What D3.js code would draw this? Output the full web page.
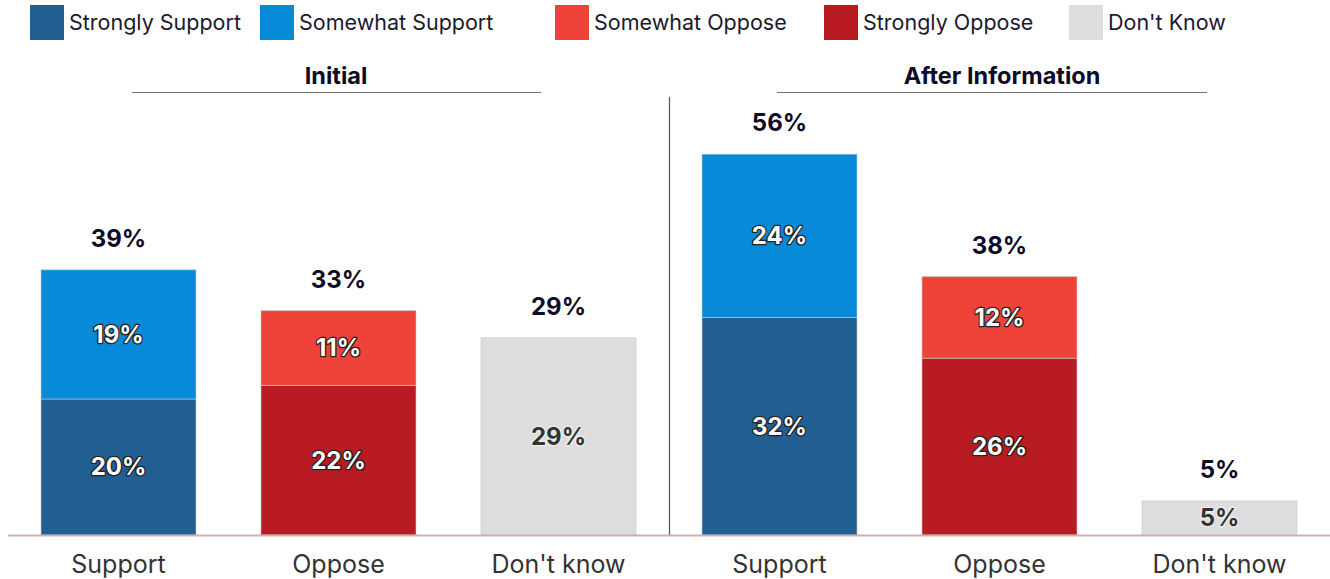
<!DOCTYPE html>
<html>
<head>
<meta charset="utf-8">
<script src="https://cdn.jsdelivr.net/npm/d3@7"></script>
<style>
  body { margin: 0; background: #fff; }
  svg { display: block; font-family: Inter, "Open Sans", sans-serif; }
  .inlbl { paint-order: stroke; stroke-linejoin: round; }
</style>
</head>
<body>
<svg id="chart"></svg>
<script>
// chart size
var width = 1330;
var height = 579;

// data
var panels = ['Initial', 'After Information'];
var categories = ['Support', 'Oppose', "Don't know"];
var seriesNames = ['Strongly Support', 'Somewhat Support', 'Somewhat Oppose', 'Strongly Oppose', "Don't Know"];
var seriesColors = ['#215f93', '#078bd9', '#ef4238', '#b81c22', '#dddddd'];

// segments per panel, bottom to top: [category, series index, value]
var initialSegments = [
  ['Support', 0, 20], ['Support', 1, 19],
  ['Oppose', 3, 22], ['Oppose', 2, 11],
  ["Don't know", 4, 29]
];
var afterSegments = [
  ['Support', 0, 32], ['Support', 1, 24],
  ['Oppose', 3, 26], ['Oppose', 2, 12],
  ["Don't know", 4, 5]
];
var initialTotals = [39, 33, 29];
var afterTotals = [56, 38, 5];

var baseY = 535;

var svg = d3.select('#chart')
  .attr('width', width)
  .attr('height', height);

// y scale, 6.8px per percent
var scaleY = d3.scaleLinear()
  .domain([0, 60])
  .range([baseY, baseY - 408]);

// outer band scale for panels, inner band for bars
var panelScale = d3.scaleBand()
  .domain(panels)
  .range([8.5, 1330.5]);

var barScale = d3.scaleBand()
  .domain(categories)
  .range([0, 660])
  .paddingInner(0.2955)
  .paddingOuter(0.1477);

// legend
var legendX = [30, 260, 555, 824, 1069];
var legend = svg.append('g').attr('class', 'legend');
seriesNames.forEach(function(name, i) {
  var g = legend.append('g').attr('transform', 'translate(' + legendX[i] + ',5)');
  g.append('rect')
    .attr('width', 34)
    .attr('height', 35)
    .attr('fill', seriesColors[i]);
  g.append('text')
    .attr('x', 39)
    .attr('y', 25)
    .style('font-size', '21.5px')
    .attr('fill', '#1a1a2e')
    .text(name);
});

var panelData = [
  { name: 'Initial', segments: initialSegments, totals: initialTotals, line: [132, 541], cx: 336 },
  { name: 'After Information', segments: afterSegments, totals: afterTotals, line: [777, 1207], cx: 1002 }
];

panelData.forEach(function(p) {
  var x0 = panelScale(p.name);
  var g = svg.append('g').attr('transform', 'translate(' + x0 + ',0)');

  // panel title + underline
  svg.append('text')
    .attr('x', p.cx)
    .attr('y', 84)
    .style('text-anchor', 'middle')
    .style('font-size', '23.5px')
    .style('font-weight', 700)
    .attr('fill', '#0d0b26')
    .text(p.name);
  svg.append('line')
    .attr('x1', p.line[0]).attr('x2', p.line[1])
    .attr('y1', 92.5).attr('y2', 92.5)
    .attr('stroke', '#777')
    .attr('stroke-width', 1.2);

  // stack the segments
  var running = {};
  var segs = p.segments.map(function(s) {
    var start = running[s[0]] || 0;
    running[s[0]] = start + s[2];
    return { cat: s[0], series: s[1], y0: start, y1: start + s[2], value: s[2] };
  });

  g.selectAll('rect.bar')
    .data(segs)
    .enter()
    .append('rect')
      .attr('class', 'bar')
      .attr('x', d => barScale(d.cat))
      .attr('width', barScale.bandwidth())
      .attr('y', d => scaleY(d.y1))
      .attr('height', d => scaleY(d.y0) - scaleY(d.y1))
      .attr('fill', d => seriesColors[d.series])
      .attr('stroke', 'rgba(200,200,200,0.6)')
      .attr('stroke-width', 1);

  // labels inside segments
  g.selectAll('text.inlbl')
    .data(segs)
    .enter()
    .append('text')
      .attr('class', 'inlbl')
      .attr('x', d => barScale(d.cat) + barScale.bandwidth() / 2)
      .attr('y', d => (scaleY(d.y0) + scaleY(d.y1)) / 2)
      .attr('dy', '0.35em')
      .style('text-anchor', 'middle')
      .style('font-size', '24px')
      .style('font-weight', 700)
      .attr('fill', d => d.series === 4 ? '#333' : '#fff')
      .attr('stroke', d => d.series === 4 ? '#eee' : '#222')
      .attr('stroke-width', 2.5)
      .text(d => d.value + '%');

  // totals above bars
  g.selectAll('text.total')
    .data(categories)
    .enter()
    .append('text')
      .attr('class', 'total inlbl')
      .attr('x', d => barScale(d) + barScale.bandwidth() / 2)
      .attr('y', (d, i) => scaleY(p.totals[i]) - 23)
      .style('text-anchor', 'middle')
      .style('font-size', '24px')
      .style('font-weight', 700)
      .attr('fill', '#0d0b26')
      .attr('stroke', '#fff')
      .attr('stroke-width', 3)
      .text((d, i) => p.totals[i] + '%');

  // category axis
  var xAxis = d3.axisBottom(barScale).tickSize(0).tickPadding(20);
  var ax = g.append('g')
    .attr('transform', 'translate(0,' + baseY + ')')
    .call(xAxis);
  ax.select('.domain').remove();
  ax.selectAll('text')
    .style('font-size', '25px')
    .style('font-family', 'Inter, "Open Sans", sans-serif')
    .attr('fill', '#333');
});

// divider between panels
svg.append('line')
  .attr('x1', 669.5).attr('x2', 669.5)
  .attr('y1', 97).attr('y2', baseY)
  .attr('stroke', '#555')
  .attr('stroke-width', 1.2);

// baseline
svg.append('line')
  .attr('x1', 8).attr('x2', 1330)
  .attr('y1', baseY + 0.5).attr('y2', baseY + 0.5)
  .attr('stroke', '#c8b2ac')
  .attr('stroke-width', 2);
</script>
</body>
</html>
